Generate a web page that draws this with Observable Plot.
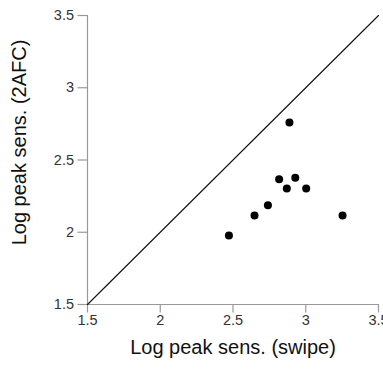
<!DOCTYPE html>
<html>
<head>
<meta charset="utf-8">
<script src="https://cdn.jsdelivr.net/npm/d3@7"></script>
<script src="https://cdn.jsdelivr.net/npm/@observablehq/plot@0.6"></script>
<style>
  html, body { margin: 0; padding: 0; background: #fff; }
  #chart svg { display: block; }
</style>
</head>
<body>
<div id="chart"></div>
<script>
const swipe = [2.888, 2.817, 2.928, 2.870, 3.003, 2.740, 2.648, 3.253, 2.472];
const afc2  = [2.759, 2.367, 2.377, 2.303, 2.303, 2.187, 2.116, 2.116, 1.978];
const ticks = [1.5, 2, 2.5, 3, 3.5];
const tickLabels = ["1.5", "2", "2.5", "3", "3.5"];
const identity = [1.5, 3.5];
const xTitle = "Log peak sens. (swipe)";
const yTitle = "Log peak sens. (2AFC)";

const points = swipe.map((s, i) => ({swipe: s, afc: afc2[i]}));
const diag = identity.map(v => ({v}));
const fmt = d => tickLabels[ticks.indexOf(d)];

const chart = Plot.plot({
  width: 383,
  height: 373,
  marginLeft: 87,
  marginRight: 5,
  marginTop: 15,
  marginBottom: 69,
  style: {fontFamily: "'Liberation Sans', Arial, Helvetica, sans-serif", background: "#fff"},
  x: {domain: [1.5, 3.5]},
  y: {domain: [1.5, 3.5]},
  marks: [
    Plot.ruleY([1.5], {stroke: "#999", strokeWidth: 1.2}),
    Plot.ruleX([1.5], {stroke: "#999", strokeWidth: 1.2}),
    Plot.axisX({ticks, tickFormat: fmt, tickSize: 8.5, tickPadding: 2, stroke: "#999", strokeWidth: 1.2, fill: "#333", fontSize: 14.5, label: null}),
    Plot.axisY({ticks, tickFormat: fmt, tickSize: 9.5, tickPadding: 4, stroke: "#999", strokeWidth: 1.2, fill: "#333", fontSize: 14.5, label: null}),
    Plot.line(diag, {x: "v", y: "v", stroke: "#111", strokeWidth: 1.1}),
    Plot.dot(points, {x: "swipe", y: "afc", r: 4, fill: "#000", stroke: "none"}),
    Plot.text([xTitle], {frameAnchor: "bottom", lineAnchor: "middle", dy: 43, fontSize: 20, fill: "#111", text: d => d}),
    Plot.text([yTitle], {frameAnchor: "left", textAnchor: "middle", lineAnchor: "middle", dx: -68, dy: -17.5, rotate: -90, fontSize: 20, fill: "#111", text: d => d})
  ]
});
document.getElementById("chart").appendChild(chart);
</script>
</body>
</html>
